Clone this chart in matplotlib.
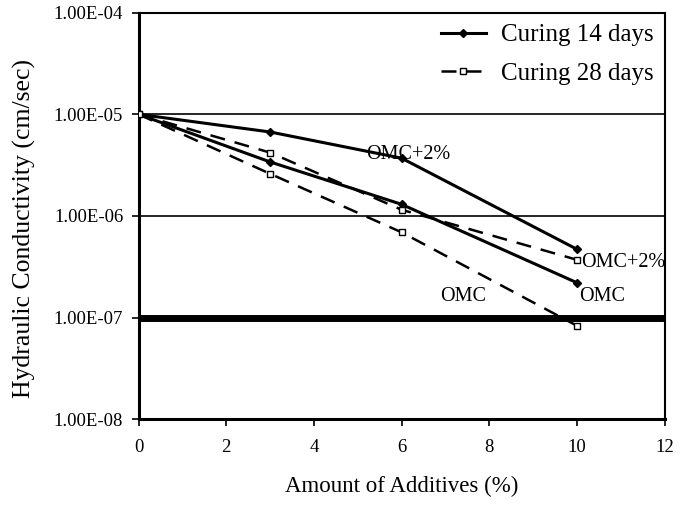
import matplotlib
matplotlib.use('Agg')
import matplotlib.pyplot as plt

plt.rcParams['font.family'] = ['Liberation Serif', 'DejaVu Serif']

# data
x_pts = [0, 3, 6, 10]
c14_omc2 = [1.0e-5, 6.7e-6, 3.7e-6, 4.7e-7]
c14_omc = [1.0e-5, 3.4e-6, 1.3e-6, 2.2e-7]
c28_omc2 = [1.0e-5, 4.2e-6, 1.15e-6, 3.7e-7]
c28_omc = [1.0e-5, 2.6e-6, 6.9e-7, 8.3e-8]
limit_value = 1.0e-7
y_ticks = [1e-8, 1e-7, 1e-6, 1e-5, 1e-4]
y_tick_labels = ['1.00E-08', '1.00E-07', '1.00E-06', '1.00E-05', '1.00E-04']
x_ticks = [0, 2, 4, 6, 8, 10, 12]

fig = plt.figure(figsize=(6.85, 5.08), dpi=100)
ax = fig.add_axes([0.2022, 0.175, 0.768, 0.800])

ax.set_yscale('log')
ax.set_xlim(0, 12)
ax.set_ylim(1e-8, 1e-4)

# grid lines at 1e-5 and 1e-6, thick limit line at 1e-7
for v in [1e-5, 1e-6]:
    ax.axhline(v, color='black', lw=1.2, zorder=1)
ax.axhline(limit_value, color='black', lw=5, zorder=1)

ax.plot(x_pts, c14_omc2, color='black', lw=2.2, marker='D', markersize=4,
        label='Curing 14 days', zorder=3)
ax.plot(x_pts, c14_omc, color='black', lw=2.2, marker='D', markersize=4, zorder=3)
ax.plot(x_pts, c28_omc2, color='black', lw=1.8, dashes=(6, 4), marker='s',
        markersize=5, markerfacecolor='white', label='Curing 28 days', zorder=3)
ax.plot(x_pts, c28_omc, color='black', lw=1.8, dashes=(6, 4), marker='s',
        markersize=5, markerfacecolor='white', zorder=3)

ax.text(5.2, 4.0e-6, 'OMC+2%', fontsize=14.5, ha='left', va='center')
ax.text(10.1, 3.5e-7, 'OMC+2%', fontsize=14.5, ha='left', va='center')
ax.text(7.4, 1.62e-7, 'OMC', fontsize=14.5, ha='center', va='center')
ax.text(10.57, 1.62e-7, 'OMC', fontsize=14.5, ha='center', va='center')

ax.set_yticks(y_ticks)
ax.set_yticklabels(y_tick_labels)
ax.yaxis.set_minor_locator(matplotlib.ticker.NullLocator())
ax.set_xticks(x_ticks)
ax.tick_params(direction='out', length=5, width=1.2, labelsize=13.5)
ax.tick_params(axis='x', pad=9)
ax.tick_params(axis='y', pad=6)

for side in ['left', 'bottom']:
    ax.spines[side].set_linewidth(2.2)
for side in ['top', 'right']:
    ax.spines[side].set_linewidth(1.5)

ax.set_xlabel('Amount of Additives (%)', fontsize=16.5)
ax.set_ylabel('Hydraulic Conductivity (cm/sec)', fontsize=18.5)
ax.xaxis.set_label_coords(0.5, -0.14)
ax.yaxis.set_label_coords(-0.195, 0.47)

ax.legend(loc='upper right', fontsize=18, frameon=False, borderaxespad=0,
          handlelength=1.8, handletextpad=0.6, labelspacing=0.65,
          borderpad=0.45)

fig.savefig('out.png', dpi=100)
